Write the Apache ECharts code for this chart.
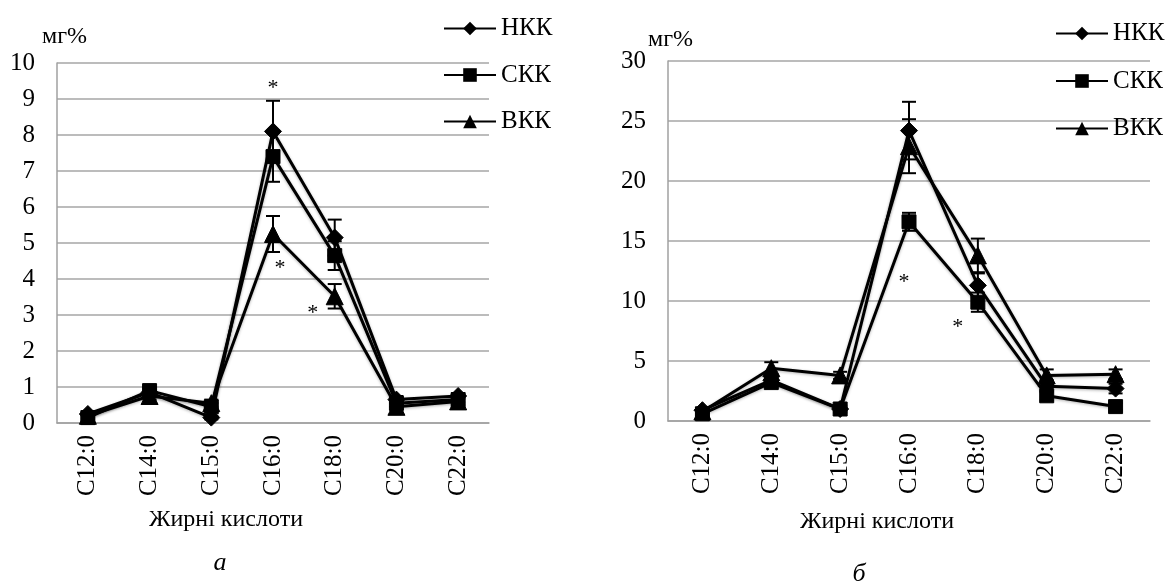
<!DOCTYPE html>
<html><head><meta charset="utf-8">
<script src="https://cdn.jsdelivr.net/npm/echarts@6/dist/echarts.min.js"></script>
<style>html,body{margin:0;padding:0;background:#fff}#c{width:1168px;height:587px}</style>
</head><body><div id="c"></div>
<script>
const categories = ['C12:0','C14:0','C15:0','C16:0','C18:0','C20:0','C22:0'];
const seriesNames = ['НКК','СКК','ВКК'];
const seriesSymbols = ['diamond','rect','triangle'];

// Chart а
const aNKK = [0.25, 0.85, 0.15, 8.1, 5.15, 0.65, 0.75];
const aSKK = [0.15, 0.9, 0.45, 7.4, 4.65, 0.55, 0.65];
const aVKK = [0.2, 0.75, 0.55, 5.25, 3.52, 0.45, 0.6];
const aNKKErr = [0.05, 0.1, 0.05, 0.85, 0.5, 0.1, 0.08];
const aSKKErr = [0.05, 0.1, 0.1, 0.7, 0.4, 0.1, 0.08];
const aVKKErr = [0.05, 0.1, 0.1, 0.5, 0.34, 0.1, 0.1];
const aStars = [[3, 9.3, 0], [3, 4.3, 7], [4, 3.05, -22]];
const aYTicks = {min: 0, max: 10, interval: 1};

// Chart б
const bNKK = [0.9, 3.4, 1.0, 24.2, 11.3, 2.9, 2.7];
const bSKK = [0.6, 3.2, 1.0, 16.6, 9.9, 2.1, 1.2];
const bVKK = [0.8, 4.4, 3.8, 22.9, 13.8, 3.8, 3.9];
const bNKKErr = [0.2, 0.4, 0.2, 2.4, 1.0, 0.5, 0.4];
const bSKKErr = [0.2, 0.4, 0.3, 0.75, 0.8, 0.4, 0.3];
const bVKKErr = [0.2, 0.5, 0.3, 2.25, 1.4, 0.5, 0.4];
const bStars = [[3, 11.6, -5], [4, 7.8, -20]];
const bYTicks = {min: 0, max: 30, interval: 5};

const yName = 'мг%';
const xName = 'Жирні кислоти';
const captions = ['а', 'б'];

const FONT = "'Liberation Serif','Times New Roman',serif";

function errRender(params, api) {
  const x = api.value(0), y = api.value(1), e = api.value(2);
  const t = api.coord([x, y + e]);
  const b = api.coord([x, y - e]);
  const hw = 7;
  const st = {stroke: '#000', lineWidth: 2};
  return {type: 'group', children: [
    {type: 'line', shape: {x1: t[0], y1: t[1], x2: b[0], y2: b[1]}, style: st},
    {type: 'line', shape: {x1: t[0] - hw, y1: t[1], x2: t[0] + hw, y2: t[1]}, style: st},
    {type: 'line', shape: {x1: b[0] - hw, y1: b[1], x2: b[0] + hw, y2: b[1]}, style: st}
  ]};
}
function starRender(params, api) {
  const p = api.coord([api.value(0), api.value(1)]);
  return {type: 'text', style: {text: '*', x: p[0] + api.value(2), y: p[1], fill: '#000',
    fontSize: 22, fontFamily: FONT, align: 'center', verticalAlign: 'middle'}};
}

function buildSeries(gi, vals, errs, stars) {
  const out = [];
  vals.forEach((v, k) => {
    out.push({
      type: 'custom', name: 'err' + gi + k, xAxisIndex: gi, yAxisIndex: gi,
      renderItem: errRender, z: 1,
      data: categories.map((c, i) => [i, v[i], errs[k][i]])
    });
  });
  vals.forEach((v, k) => {
    out.push({
      type: 'line', name: seriesNames[k], xAxisIndex: gi, yAxisIndex: gi,
      data: v, symbol: seriesSymbols[k], symbolSize: k === 1 ? 14 : 17, z: 3,
      lineStyle: {width: 3, color: '#000', shadowColor: 'rgba(0,0,0,0.3)', shadowBlur: 3, shadowOffsetY: 1},
      itemStyle: {color: '#000', borderColor: '#000'}
    });
  });
  out.push({type: 'custom', name: 'stars' + gi, xAxisIndex: gi, yAxisIndex: gi,
    renderItem: starRender, z: 4, data: stars});
  return out;
}

const grids = [
  {left: 57, top: 63, width: 432, height: 360},
  {left: 668, top: 61, width: 482, height: 360}
];
const yTicks = [aYTicks, bYTicks];

const chart = echarts.init(document.getElementById('c'), null, {renderer: 'canvas'});
chart.setOption({
  animation: false,
  backgroundColor: '#fff',
  textStyle: {fontFamily: FONT, color: '#000'},
  grid: grids,
  legend: [
    {data: seriesNames, orient: 'vertical', left: 438, top: 11, itemWidth: 52, itemHeight: 17, itemGap: 21.5,
     textStyle: {fontFamily: FONT, fontSize: 25, color: '#000'}, selectedMode: false},
    {data: seriesNames, orient: 'vertical', left: 1050, top: 16, itemWidth: 52, itemHeight: 17, itemGap: 22.5,
     textStyle: {fontFamily: FONT, fontSize: 25, color: '#000'}, selectedMode: false}
  ],
  xAxis: [0, 1].map(gi => ({
    type: 'category', gridIndex: gi, data: categories, boundaryGap: true,
    axisLine: {show: true, lineStyle: {color: '#a0a0a0', width: 1.5}},
    axisTick: {show: false},
    axisLabel: {rotate: 90, fontSize: 25, fontFamily: FONT, color: '#000', margin: 12}
  })),
  yAxis: [0, 1].map(gi => ({
    type: 'value', gridIndex: gi, min: yTicks[gi].min, max: yTicks[gi].max, interval: yTicks[gi].interval,
    axisLine: {show: true, lineStyle: {color: '#a0a0a0', width: 1.5}},
    axisTick: {show: false},
    splitLine: {show: true, lineStyle: {color: '#a6a6a6', width: 1.5}},
    axisLabel: {fontSize: 25, fontFamily: FONT, color: '#000', margin: 22}
  })),
  graphic: [
    {type: 'text', left: 42, top: 25, style: {text: yName, fontSize: 24, fontFamily: FONT, fill: '#000'}},
    {type: 'text', left: 648, top: 28, style: {text: yName, fontSize: 24, fontFamily: FONT, fill: '#000'}},
    {type: 'text', x: 226, y: 520, style: {text: xName, fontSize: 24, fontFamily: FONT, fill: '#000', align: 'center', verticalAlign: 'middle'}},
    {type: 'text', x: 877, y: 522, style: {text: xName, fontSize: 24, fontFamily: FONT, fill: '#000', align: 'center', verticalAlign: 'middle'}},
    {type: 'text', x: 220, y: 563, style: {text: captions[0], fontSize: 26, fontStyle: 'italic', fontFamily: FONT, fill: '#000', align: 'center', verticalAlign: 'middle'}},
    {type: 'text', x: 859, y: 574, style: {text: captions[1], fontSize: 26, fontStyle: 'italic', fontFamily: FONT, fill: '#000', align: 'center', verticalAlign: 'middle'}}
  ],
  series: [
    ...buildSeries(0, [aNKK, aSKK, aVKK], [aNKKErr, aSKKErr, aVKKErr], aStars),
    ...buildSeries(1, [bNKK, bSKK, bVKK], [bNKKErr, bSKKErr, bVKKErr], bStars)
  ]
});
</script></body></html>
